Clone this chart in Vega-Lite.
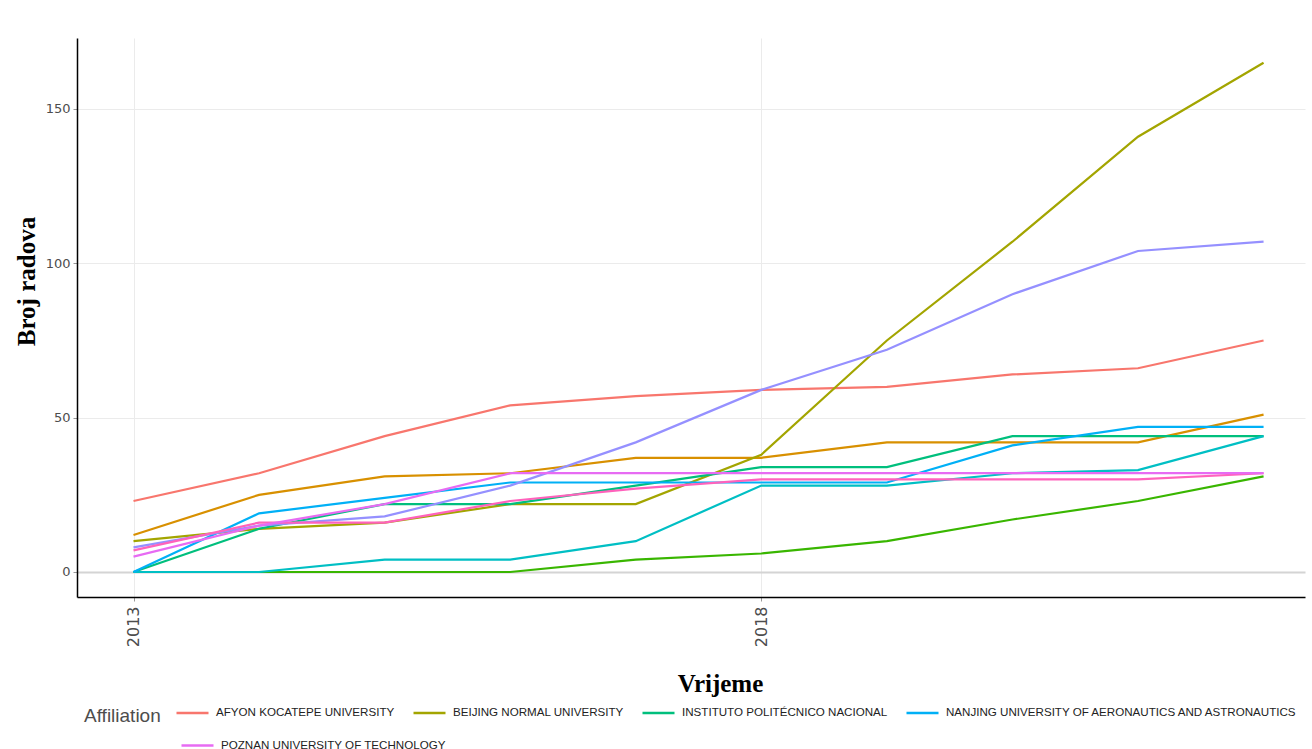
{
  "$schema": "https://vega.github.io/schema/vega-lite/v6.json",
  "width": 1228,
  "height": 559,
  "autosize": {"type": "none"},
  "padding": {"left": 77, "top": 38, "right": 7, "bottom": 152},
  "background": "white",
  "config": {"view": {"stroke": null}},
  "data": {
    "values": [
      {"year": 2013, "aff": "AFYON KOCATEPE UNIVERSITY", "n": 23},
      {"year": 2014, "aff": "AFYON KOCATEPE UNIVERSITY", "n": 32},
      {"year": 2015, "aff": "AFYON KOCATEPE UNIVERSITY", "n": 44},
      {"year": 2016, "aff": "AFYON KOCATEPE UNIVERSITY", "n": 54},
      {"year": 2017, "aff": "AFYON KOCATEPE UNIVERSITY", "n": 57},
      {"year": 2018, "aff": "AFYON KOCATEPE UNIVERSITY", "n": 59},
      {"year": 2019, "aff": "AFYON KOCATEPE UNIVERSITY", "n": 60},
      {"year": 2020, "aff": "AFYON KOCATEPE UNIVERSITY", "n": 64},
      {"year": 2021, "aff": "AFYON KOCATEPE UNIVERSITY", "n": 66},
      {"year": 2022, "aff": "AFYON KOCATEPE UNIVERSITY", "n": 75},
      {"year": 2013, "aff": "Other affiliation 1", "n": 12},
      {"year": 2014, "aff": "Other affiliation 1", "n": 25},
      {"year": 2015, "aff": "Other affiliation 1", "n": 31},
      {"year": 2016, "aff": "Other affiliation 1", "n": 32},
      {"year": 2017, "aff": "Other affiliation 1", "n": 37},
      {"year": 2018, "aff": "Other affiliation 1", "n": 37},
      {"year": 2019, "aff": "Other affiliation 1", "n": 42},
      {"year": 2020, "aff": "Other affiliation 1", "n": 42},
      {"year": 2021, "aff": "Other affiliation 1", "n": 42},
      {"year": 2022, "aff": "Other affiliation 1", "n": 51},
      {"year": 2013, "aff": "BEIJING NORMAL UNIVERSITY", "n": 10},
      {"year": 2014, "aff": "BEIJING NORMAL UNIVERSITY", "n": 14},
      {"year": 2015, "aff": "BEIJING NORMAL UNIVERSITY", "n": 16},
      {"year": 2016, "aff": "BEIJING NORMAL UNIVERSITY", "n": 22},
      {"year": 2017, "aff": "BEIJING NORMAL UNIVERSITY", "n": 22},
      {"year": 2018, "aff": "BEIJING NORMAL UNIVERSITY", "n": 38},
      {"year": 2019, "aff": "BEIJING NORMAL UNIVERSITY", "n": 75},
      {"year": 2020, "aff": "BEIJING NORMAL UNIVERSITY", "n": 107},
      {"year": 2021, "aff": "BEIJING NORMAL UNIVERSITY", "n": 141},
      {"year": 2022, "aff": "BEIJING NORMAL UNIVERSITY", "n": 165},
      {"year": 2013, "aff": "Other affiliation 2", "n": 0},
      {"year": 2014, "aff": "Other affiliation 2", "n": 0},
      {"year": 2015, "aff": "Other affiliation 2", "n": 0},
      {"year": 2016, "aff": "Other affiliation 2", "n": 0},
      {"year": 2017, "aff": "Other affiliation 2", "n": 4},
      {"year": 2018, "aff": "Other affiliation 2", "n": 6},
      {"year": 2019, "aff": "Other affiliation 2", "n": 10},
      {"year": 2020, "aff": "Other affiliation 2", "n": 17},
      {"year": 2021, "aff": "Other affiliation 2", "n": 23},
      {"year": 2022, "aff": "Other affiliation 2", "n": 31},
      {"year": 2013, "aff": "INSTITUTO POLITÉCNICO NACIONAL", "n": 0},
      {"year": 2014, "aff": "INSTITUTO POLITÉCNICO NACIONAL", "n": 14},
      {"year": 2015, "aff": "INSTITUTO POLITÉCNICO NACIONAL", "n": 22},
      {"year": 2016, "aff": "INSTITUTO POLITÉCNICO NACIONAL", "n": 22},
      {"year": 2017, "aff": "INSTITUTO POLITÉCNICO NACIONAL", "n": 28},
      {"year": 2018, "aff": "INSTITUTO POLITÉCNICO NACIONAL", "n": 34},
      {"year": 2019, "aff": "INSTITUTO POLITÉCNICO NACIONAL", "n": 34},
      {"year": 2020, "aff": "INSTITUTO POLITÉCNICO NACIONAL", "n": 44},
      {"year": 2021, "aff": "INSTITUTO POLITÉCNICO NACIONAL", "n": 44},
      {"year": 2022, "aff": "INSTITUTO POLITÉCNICO NACIONAL", "n": 44},
      {"year": 2013, "aff": "Other affiliation 3", "n": 0},
      {"year": 2014, "aff": "Other affiliation 3", "n": 0},
      {"year": 2015, "aff": "Other affiliation 3", "n": 4},
      {"year": 2016, "aff": "Other affiliation 3", "n": 4},
      {"year": 2017, "aff": "Other affiliation 3", "n": 10},
      {"year": 2018, "aff": "Other affiliation 3", "n": 28},
      {"year": 2019, "aff": "Other affiliation 3", "n": 28},
      {"year": 2020, "aff": "Other affiliation 3", "n": 32},
      {"year": 2021, "aff": "Other affiliation 3", "n": 33},
      {"year": 2022, "aff": "Other affiliation 3", "n": 44},
      {"year": 2013, "aff": "NANJING UNIVERSITY OF AERONAUTICS AND ASTRONAUTICS", "n": 0},
      {"year": 2014, "aff": "NANJING UNIVERSITY OF AERONAUTICS AND ASTRONAUTICS", "n": 19},
      {"year": 2015, "aff": "NANJING UNIVERSITY OF AERONAUTICS AND ASTRONAUTICS", "n": 24},
      {"year": 2016, "aff": "NANJING UNIVERSITY OF AERONAUTICS AND ASTRONAUTICS", "n": 29},
      {"year": 2017, "aff": "NANJING UNIVERSITY OF AERONAUTICS AND ASTRONAUTICS", "n": 29},
      {"year": 2018, "aff": "NANJING UNIVERSITY OF AERONAUTICS AND ASTRONAUTICS", "n": 29},
      {"year": 2019, "aff": "NANJING UNIVERSITY OF AERONAUTICS AND ASTRONAUTICS", "n": 29},
      {"year": 2020, "aff": "NANJING UNIVERSITY OF AERONAUTICS AND ASTRONAUTICS", "n": 41},
      {"year": 2021, "aff": "NANJING UNIVERSITY OF AERONAUTICS AND ASTRONAUTICS", "n": 47},
      {"year": 2022, "aff": "NANJING UNIVERSITY OF AERONAUTICS AND ASTRONAUTICS", "n": 47},
      {"year": 2013, "aff": "Other affiliation 4", "n": 8},
      {"year": 2014, "aff": "Other affiliation 4", "n": 15},
      {"year": 2015, "aff": "Other affiliation 4", "n": 18},
      {"year": 2016, "aff": "Other affiliation 4", "n": 28},
      {"year": 2017, "aff": "Other affiliation 4", "n": 42},
      {"year": 2018, "aff": "Other affiliation 4", "n": 59},
      {"year": 2019, "aff": "Other affiliation 4", "n": 72},
      {"year": 2020, "aff": "Other affiliation 4", "n": 90},
      {"year": 2021, "aff": "Other affiliation 4", "n": 104},
      {"year": 2022, "aff": "Other affiliation 4", "n": 107},
      {"year": 2013, "aff": "POZNAN UNIVERSITY OF TECHNOLOGY", "n": 5},
      {"year": 2014, "aff": "POZNAN UNIVERSITY OF TECHNOLOGY", "n": 15},
      {"year": 2015, "aff": "POZNAN UNIVERSITY OF TECHNOLOGY", "n": 22},
      {"year": 2016, "aff": "POZNAN UNIVERSITY OF TECHNOLOGY", "n": 32},
      {"year": 2017, "aff": "POZNAN UNIVERSITY OF TECHNOLOGY", "n": 32},
      {"year": 2018, "aff": "POZNAN UNIVERSITY OF TECHNOLOGY", "n": 32},
      {"year": 2019, "aff": "POZNAN UNIVERSITY OF TECHNOLOGY", "n": 32},
      {"year": 2020, "aff": "POZNAN UNIVERSITY OF TECHNOLOGY", "n": 32},
      {"year": 2021, "aff": "POZNAN UNIVERSITY OF TECHNOLOGY", "n": 32},
      {"year": 2022, "aff": "POZNAN UNIVERSITY OF TECHNOLOGY", "n": 32},
      {"year": 2013, "aff": "Other affiliation 5", "n": 7},
      {"year": 2014, "aff": "Other affiliation 5", "n": 16},
      {"year": 2015, "aff": "Other affiliation 5", "n": 16},
      {"year": 2016, "aff": "Other affiliation 5", "n": 23},
      {"year": 2017, "aff": "Other affiliation 5", "n": 27},
      {"year": 2018, "aff": "Other affiliation 5", "n": 30},
      {"year": 2019, "aff": "Other affiliation 5", "n": 30},
      {"year": 2020, "aff": "Other affiliation 5", "n": 30},
      {"year": 2021, "aff": "Other affiliation 5", "n": 30},
      {"year": 2022, "aff": "Other affiliation 5", "n": 32}
    ]
  },
  "encoding": {
    "x": {
      "field": "year",
      "type": "quantitative",
      "scale": {"domain": [2012.55, 2022.33], "nice": false, "zero": false},
      "axis": {
        "values": [2013, 2018],
        "format": "d",
        "labelAngle": -90,
        "labelFont": "DejaVu Sans",
        "labelFontSize": 16,
        "labelColor": "#4d4d4d",
        "labelPadding": 5,
        "tickSize": 4,
        "tickColor": "#999999",
        "domainColor": "#000000",
        "domainWidth": 1.5,
        "gridColor": "#ebebeb",
        "title": "Vrijeme",
        "titleFont": "Liberation Serif",
        "titleFontSize": 25,
        "titleFontWeight": "bold",
        "titleColor": "#000000",
        "titleAlign": "center",
        "titleBaseline": "middle",
        "titleX": 643,
        "titleY": 86
      }
    },
    "y": {
      "field": "n",
      "type": "quantitative",
      "scale": {"domain": [-8.1, 173], "nice": false, "zero": false},
      "axis": {
        "values": [0, 50, 100, 150],
        "labelFont": "DejaVu Sans",
        "labelFontSize": 13,
        "labelColor": "#4d4d4d",
        "labelPadding": 3,
        "tickSize": 4,
        "tickColor": "#999999",
        "domainColor": "#000000",
        "domainWidth": 1.5,
        "gridColor": {"condition": {"test": "datum.value === 0", "value": "#d4d4d4"}, "value": "#ebebeb"},
        "gridWidth": {"condition": {"test": "datum.value === 0", "value": 2}, "value": 1},
        "title": "Broj radova",
        "titleFont": "Liberation Serif",
        "titleFontSize": 25,
        "titleFontWeight": "bold",
        "titleColor": "#000000",
        "titleAngle": -90,
        "titleAlign": "center",
        "titleBaseline": "middle",
        "titleX": -51,
        "titleY": 243
      }
    }
  },
  "layer": [
    {
      "transform": [{"filter": "datum.aff !== 'POZNAN UNIVERSITY OF TECHNOLOGY'"}],
      "mark": {"type": "line", "strokeWidth": 2.2, "clip": true},
      "encoding": {
        "color": {
          "field": "aff",
          "type": "nominal",
          "scale": {
            "domain": [
              "AFYON KOCATEPE UNIVERSITY",
              "Other affiliation 1",
              "BEIJING NORMAL UNIVERSITY",
              "Other affiliation 2",
              "INSTITUTO POLITÉCNICO NACIONAL",
              "Other affiliation 3",
              "NANJING UNIVERSITY OF AERONAUTICS AND ASTRONAUTICS",
              "Other affiliation 4",
              "POZNAN UNIVERSITY OF TECHNOLOGY",
              "Other affiliation 5"
            ],
            "range": ["#F8766D", "#D89000", "#A3A500", "#39B600", "#00BF7D", "#00BFC4", "#00B0F6", "#9590FF", "#E76BF3", "#FF62BC"]
          },
          "legend": {
            "values": [
              "AFYON KOCATEPE UNIVERSITY",
              "BEIJING NORMAL UNIVERSITY",
              "INSTITUTO POLITÉCNICO NACIONAL",
              "NANJING UNIVERSITY OF AERONAUTICS AND ASTRONAUTICS"
            ],
            "title": "Affiliation",
            "orient": "none",
            "legendX": 7,
            "legendY": 657,
            "direction": "horizontal",
            "columns": 4,
            "titleOrient": "left",
            "titleAnchor": "middle",
            "titleBaseline": "top",
            "titleFont": "Liberation Sans",
            "titleFontSize": 19,
            "titleFontWeight": "normal",
            "titleColor": "#4d4d4d",
            "titlePadding": 14,
            "labelFont": "Liberation Sans",
            "labelFontSize": 11.6,
            "labelColor": "#222222",
            "labelLimit": 500,
            "labelOffset": 6,
            "symbolType": "stroke",
            "symbolSize": 1024,
            "symbolStrokeWidth": 2.5,
            "columnPadding": 13,
            "rowPadding": 1
          }
        }
      }
    },
    {
      "transform": [{"filter": "datum.aff === 'POZNAN UNIVERSITY OF TECHNOLOGY'"}],
      "mark": {"type": "line", "strokeWidth": 2.2, "clip": true},
      "encoding": {
        "stroke": {
          "field": "aff",
          "type": "nominal",
          "scale": {"domain": ["POZNAN UNIVERSITY OF TECHNOLOGY"], "range": ["#E76BF3"]},
          "legend": {
            "title": null,
            "orient": "none",
            "legendX": 103,
            "legendY": 690,
            "direction": "horizontal",
            "labelFont": "Liberation Sans",
            "labelFontSize": 11.6,
            "labelColor": "#222222",
            "labelLimit": 500,
            "labelOffset": 6,
            "symbolType": "stroke",
            "symbolSize": 1024,
            "symbolStrokeWidth": 2.5
          }
        }
      }
    }
  ]
}
